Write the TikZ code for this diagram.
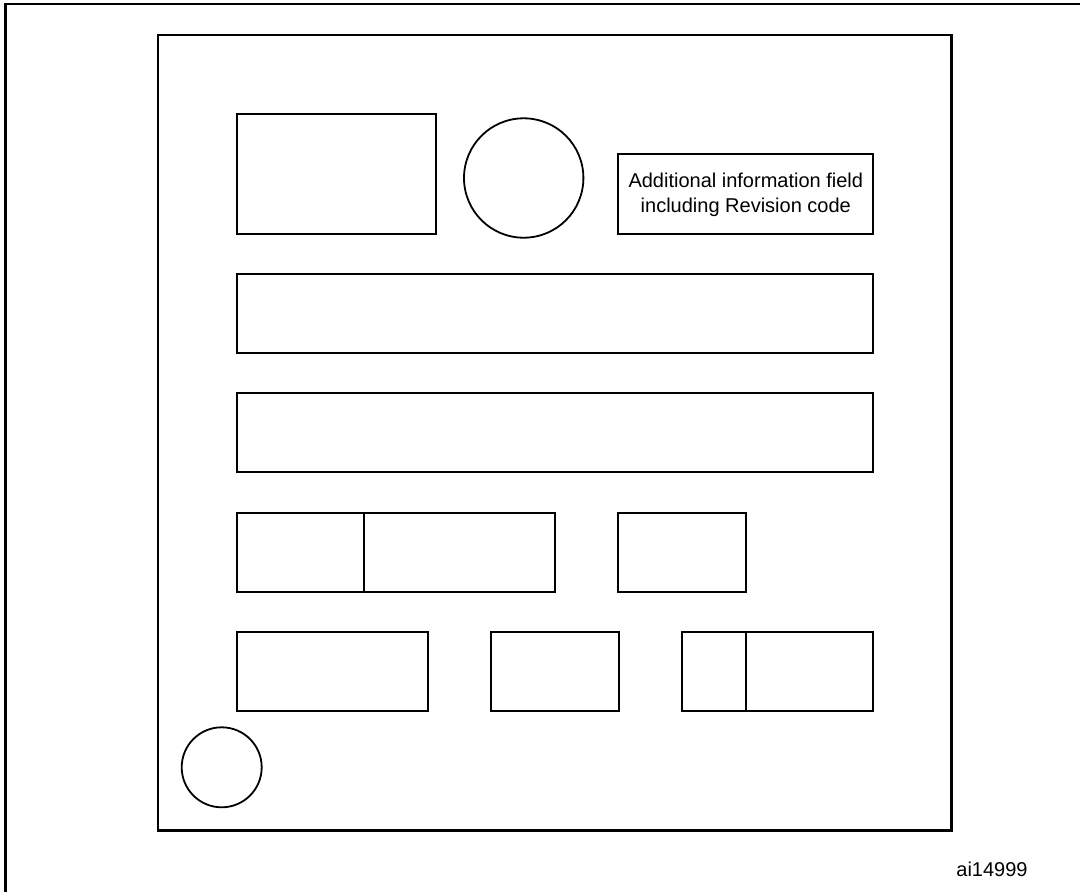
\documentclass[tikz,border=0pt]{standalone}
\usepackage{fontspec}
\setmainfont{Liberation Sans}
\begin{document}
\begin{tikzpicture}[x=1pt,y=-1pt,
  frameline/.style={line width=2.2pt},
  boxline/.style={line width=1.8pt},
  lbl/.style={font=\fontsize{20}{24.7}\selectfont, inner sep=0pt, align=center}]
\useasboundingbox (0,0) rectangle (1080,892);
% outer sheet border (only left and top visible)
\draw[frameline] (5.5,892) -- (5.5,3.8) -- (1080,3.8);
% inner frame
\draw[frameline] (158,35) rectangle (951.5,830.5);
% top row
\draw[boxline] (237.3,114.3) rectangle (436,234);
\draw[boxline] (523.7,178) circle (59.7);
\draw[boxline] (618.3,154) rectangle (873.3,234);
\node[lbl] (info) at (745.8,195) {Additional information field\\including Revision code};
% wide rows
\draw[boxline] (237.3,273.7) rectangle (872.7,353.3);
\draw[boxline] (237.3,393.3) rectangle (872.7,472.3);
% row 4
\draw[boxline] (237.3,512.7) rectangle (555.3,592);
\draw[boxline] (364.3,512.7) -- (364.3,592);
\draw[boxline] (618.3,512.7) rectangle (746,592);
% row 5
\draw[boxline] (237.3,632) rectangle (428.3,711.3);
\draw[boxline] (491,632) rectangle (618.7,711.3);
\draw[boxline] (682,632) rectangle (873.3,711.3);
\draw[boxline] (745.7,632) -- (745.7,711.3);
% bottom-left circle
\draw[boxline] (221.7,767.3) circle (40);
% figure id
\node[lbl, anchor=base] (fig) at (992,876.7) {ai14999};
\end{tikzpicture}
\end{document}
